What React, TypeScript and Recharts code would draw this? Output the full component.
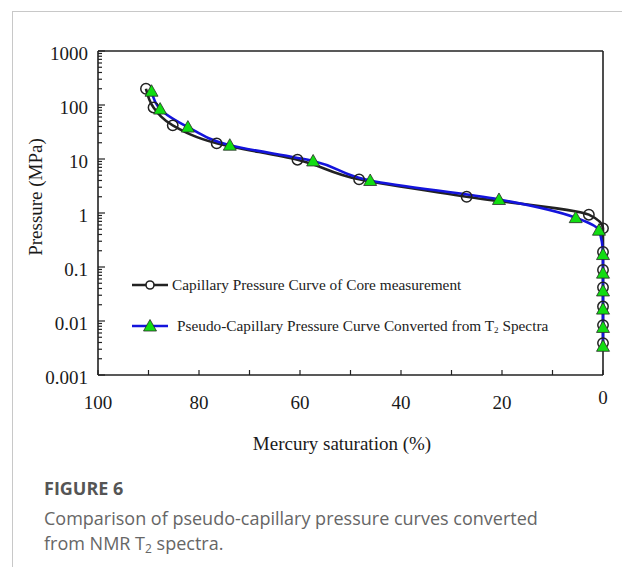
import { LineChart, Line, XAxis, YAxis, ReferenceLine, Legend, Label } from "recharts";

// core measurement (circles)
const coreSaturation = [90.5, 89, 85.2, 76.5, 60.5, 48.3, 27, 2.8, 0, 0, 0, 0, 0, 0, 0];
const corePressure = [200, 90, 42, 19.5, 9.7, 4.2, 2.0, 0.93, 0.52, 0.19, 0.088, 0.042, 0.0185, 0.0084, 0.0039];

// converted from T2 spectra (triangles)
const nmrSaturation = [89.4, 87.7, 82.2, 73.9, 57.4, 46.1, 20.6, 5.4, 0.8, 0, 0, 0, 0, 0, 0];
const nmrPressure = [180, 84, 39, 18, 9.2, 4.0, 1.78, 0.82, 0.48, 0.17, 0.077, 0.036, 0.0166, 0.0076, 0.0034];

const yMajorTicks = [0.001, 0.01, 0.1, 1, 10, 100, 1000];
const yTickLabels = ["0.001", "0.01", "0.1", "1", "10", "100", "1000"];
const yMinorSteps = [2, 3, 4, 5, 6, 7, 8, 9];
const xTicks = [0, 10, 20, 30, 40, 50, 60, 70, 80, 90, 100];
const xTickLabels = [0, 20, 40, 60, 80, 100];

const coreData = coreSaturation.map((s, i) => ({ s, p: corePressure[i] }));
const nmrData = nmrSaturation.map((s, i) => ({ s, p: nmrPressure[i] }));

const yTicks = [
  ...yMajorTicks,
  ...yMajorTicks.slice(0, -1).flatMap((t) => yMinorSteps.map((m) => Number((t * m).toPrecision(3)))),
].sort((a, b) => a - b);

const SERIF = "'Liberation Serif', 'Times New Roman', serif";
const INK = "#222";
const BLUE = "#1414dc";
const GREEN = "#12dd12";

const tickText = { fontFamily: SERIF, fontSize: 19, fontWeight: 400, fill: "#1a1a1a", stroke: "none" };

function YTick(props: any) {
  const { x, y, payload } = props;
  const i = yMajorTicks.findIndex((t) => Math.abs(Math.log10(t) - Math.log10(payload.value)) < 1e-6);
  const major = i >= 0;
  return (
    <g>
      <line x1={x} x2={x + (major ? 7 : 4)} y1={y} y2={y} stroke={INK} strokeWidth={1.2} />
      {major && (
        <text x={x - 10} y={y + 2} dy="0.35em" textAnchor="end" style={tickText}>
          {yTickLabels[i]}
        </text>
      )}
    </g>
  );
}

function XTick(props: any) {
  const { x, y, payload } = props;
  const v = payload.value;
  return (
    <g>
      <line x1={x} x2={x} y1={y} y2={y - 5} stroke={INK} strokeWidth={1.2} />
      {xTickLabels.includes(v) && (
        <text x={x} y={y + (v === 0 ? 22 : 27)} dy="0.35em" textAnchor="middle" style={tickText}>
          {v}
        </text>
      )}
    </g>
  );
}

function CircleDot(props: any) {
  const { cx, cy } = props;
  return <circle cx={cx} cy={cy} r={5.2} fill="none" stroke={INK} strokeWidth={1.5} />;
}

function TriangleDot(props: any) {
  const { cx, cy } = props;
  return (
    <polygon
      points={`${cx},${cy - 6.5} ${cx - 6.5},${cy + 5} ${cx + 6.5},${cy + 5}`}
      fill={GREEN}
      stroke="#2a2a2a"
      strokeWidth={0.8}
    />
  );
}

function LegendBox() {
  const text = { position: "absolute" as const, fontFamily: SERIF, fontSize: 15.3, color: "#222", whiteSpace: "nowrap" as const, lineHeight: "20px", top: 0 };
  return (
    <div style={{ position: "relative", width: 440, height: 62 }}>
      <div style={{ position: "absolute", left: 0, top: 0, height: 20 }}>
        <svg width={38} height={20} style={{ display: "block" }}>
          <line x1={1} x2={37} y1={10} y2={10} stroke={INK} strokeWidth={2.6} />
          <circle cx={19} cy={10} r={4} fill="#fff" stroke={INK} strokeWidth={1.6} />
        </svg>
        <span style={{ ...text, left: 41 }}>Capillary Pressure Curve of Core measurement</span>
      </div>
      <div style={{ position: "absolute", left: 0, top: 41, height: 20 }}>
        <svg width={38} height={20} style={{ display: "block" }}>
          <line x1={1} x2={37} y1={10} y2={10} stroke={BLUE} strokeWidth={2.6} />
          <polygon points="19,3.5 12.5,15 25.5,15" fill={GREEN} stroke="#2a2a2a" strokeWidth={0.8} />
        </svg>
        <span style={{ ...text, left: 46 }}>
          Pseudo-Capillary Pressure Curve Converted from T<sub style={{ fontSize: 9, verticalAlign: "-2px" }}>2</sub> Spectra
        </span>
      </div>
    </div>
  );
}

export default function App() {
  return (
    <div style={{ position: "absolute", left: 0, top: 0, width: 622, height: 567, background: "#fff", overflow: "hidden" }}>
      <div style={{ position: "absolute", left: 12, top: 11, right: 0, bottom: 0, borderLeft: "1px solid #c8c8c8", borderTop: "1px solid #c8c8c8" }} />
      <div style={{ position: "absolute", left: 0, top: 0 }}>
        <LineChart width={622} height={460} margin={{ top: 51, right: 19, left: 0, bottom: 25 }}>
          <XAxis
            type="number"
            dataKey="s"
            domain={[0, 100]}
            reversed
            ticks={xTicks}
            interval={0}
            tick={<XTick />}
            tickLine={false}
            tickSize={0}
            tickMargin={0}
            height={60}
            axisLine={{ stroke: INK, strokeWidth: 1.6 }}
          >
            <Label
              content={() => (
                <text x={342} y={443} dy="0.35em" textAnchor="middle" style={tickText}>
                  Mercury saturation (%)
                </text>
              )}
            />
          </XAxis>
          <YAxis
            type="number"
            scale="log"
            domain={[0.001, 1000]}
            allowDataOverflow
            ticks={yTicks}
            interval={0}
            tick={<YTick />}
            tickLine={false}
            tickSize={0}
            tickMargin={0}
            width={98}
            axisLine={{ stroke: INK, strokeWidth: 1.6 }}
          >
            <Label
              content={() => (
                <text x={35} y={197} dy="0.35em" textAnchor="middle" transform="rotate(-90 35 197)" style={tickText}>
                  Pressure (MPa)
                </text>
              )}
            />
          </YAxis>
          <ReferenceLine y={1000} stroke={INK} strokeWidth={1.6} />
          <ReferenceLine x={0} stroke={INK} strokeWidth={1.6} />
          <Legend
            layout="vertical"
            align="center"
            verticalAlign="middle"
            wrapperStyle={{ left: 131, top: 275, width: 440 }}
            content={() => <LegendBox />}
          />
          <Line
            data={coreData}
            dataKey="p"
            type="monotoneY"
            stroke={INK}
            strokeWidth={2.6}
            dot={<CircleDot />}
            activeDot={false}
            isAnimationActive={false}
          />
          <Line
            data={nmrData}
            dataKey="p"
            type="monotoneY"
            stroke={BLUE}
            strokeWidth={2.6}
            dot={<TriangleDot />}
            activeDot={false}
            isAnimationActive={false}
          />
        </LineChart>
      </div>
      <div style={{ position: "absolute", left: 44, top: 476, fontFamily: "'Open Sans', sans-serif", fontWeight: 700, fontSize: 18, lineHeight: "24px", color: "#555" }}>
        FIGURE 6
      </div>
      <div style={{ position: "absolute", left: 44, top: 506, fontFamily: "'Open Sans', sans-serif", fontSize: 18, lineHeight: "25px", color: "#666", whiteSpace: "nowrap" }}>
        Comparison of pseudo-capillary pressure curves converted
        <br />
        from NMR T<sub style={{ fontSize: 12, verticalAlign: "-3px", lineHeight: 0 }}>2</sub> spectra.
      </div>
    </div>
  );
}
